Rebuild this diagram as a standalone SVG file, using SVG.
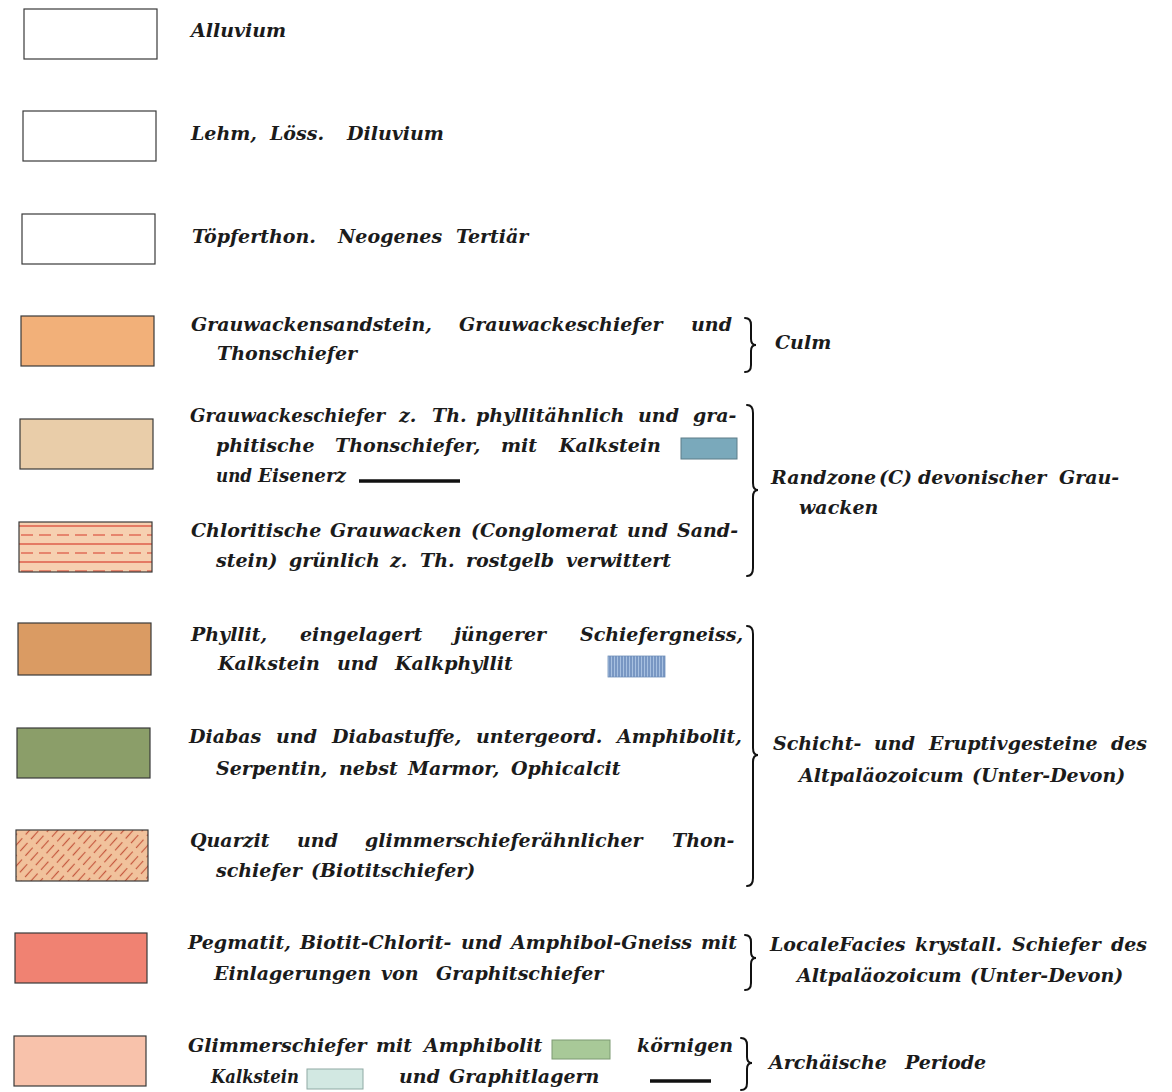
<svg xmlns="http://www.w3.org/2000/svg" width="1172" height="1092" viewBox="0 0 1172 1092">
<style>
.t{font-family:"DejaVu Serif","Liberation Serif",serif;font-weight:bold;font-style:italic;font-size:19px;fill:#1b1b1b}
.sw{stroke:#3a3a3a;stroke-width:1.2}
.br{fill:none;stroke:#111;stroke-width:2;stroke-linecap:round}
.bar{stroke:#111;stroke-width:3.5}
</style>
<defs>
<pattern id="chlor" patternUnits="userSpaceOnUse" x="19" y="522" width="18" height="18">
<rect width="18" height="18" fill="#f6d0b0"/>
<line x1="0" y1="4" x2="18" y2="4" stroke="#e06450" stroke-width="1.6"/>
<line x1="2" y1="13" x2="14" y2="13" stroke="#e06450" stroke-width="1.4"/>
</pattern>
<pattern id="quarz" patternUnits="userSpaceOnUse" width="7" height="16" patternTransform="rotate(42)">
<line x1="3.5" y1="0" x2="3.5" y2="11" stroke="#c4583e" stroke-width="1.2"/>
</pattern>
<pattern id="vstripe" patternUnits="userSpaceOnUse" width="3" height="10">
<rect width="3" height="10" fill="#a7c0e0"/>
<line x1="1" y1="0" x2="1" y2="10" stroke="#4a6ea6" stroke-width="1"/>
</pattern>
</defs>

<g id="alluvium">
<rect class="sw" x="24" y="9" width="133" height="50" fill="#fff"/>
<text class="t" x="191" y="37">Alluvium</text>
</g>
<g id="diluvium">
<rect class="sw" x="23" y="111" width="133" height="50" fill="#fff"/>
<text class="t" y="140"><tspan x="191">Lehm,</tspan><tspan x="270">Löss.</tspan><tspan x="347">Diluvium</tspan></text>
</g>
<g id="tertiaer">
<rect class="sw" x="22" y="214" width="133" height="50" fill="#fff"/>
<text class="t" y="243"><tspan x="192">Töpferthon.</tspan><tspan x="338">Neogenes</tspan><tspan x="456">Tertiär</tspan></text>
</g>
<g id="culm-grauwacke">
<rect class="sw" x="21" y="316" width="133" height="50" fill="#f2b079"/>
<text class="t" y="331"><tspan x="191">Grauwackensandstein,</tspan><tspan x="459">Grauwackeschiefer</tspan><tspan x="691">und</tspan></text>
<text class="t" x="217" y="360">Thonschiefer</text>
</g>
<g id="grauwackeschiefer">
<rect class="sw" x="20" y="419" width="133" height="50" fill="#e9cda9"/>
<text class="t" y="422"><tspan x="190" textLength="195" lengthAdjust="spacingAndGlyphs">Grauwackeschiefer</tspan><tspan x="399">z.</tspan><tspan x="432">Th.</tspan><tspan x="476">phyllitähnlich</tspan><tspan x="638">und</tspan><tspan x="693">gra-</tspan></text>
<text class="t" y="452"><tspan x="216">phitische</tspan><tspan x="335">Thonschiefer,</tspan><tspan x="501">mit</tspan><tspan x="559">Kalkstein</tspan></text>
<rect x="681" y="438" width="56" height="21" fill="#7aa9bb" stroke="#5d7d88" stroke-width="1"/>
<text class="t" y="482"><tspan x="216" textLength="36" lengthAdjust="spacingAndGlyphs">und</tspan><tspan x="258" textLength="88" lengthAdjust="spacingAndGlyphs">Eisenerz</tspan></text>
<line class="bar" x1="359" y1="481" x2="460" y2="481"/>
</g>
<g id="chloritische">
<rect class="sw" x="19" y="522" width="133" height="50" fill="url(#chlor)"/>
<text class="t" y="537"><tspan x="191">Chloritische</tspan><tspan x="330">Grauwacken</tspan><tspan x="471">(Conglomerat</tspan><tspan x="627">und</tspan><tspan x="677">Sand-</tspan></text>
<text class="t" y="567"><tspan x="216">stein)</tspan><tspan x="289">grünlich</tspan><tspan x="390">z.</tspan><tspan x="420">Th.</tspan><tspan x="466">rostgelb</tspan><tspan x="566">verwittert</tspan></text>
</g>
<g id="phyllit">
<rect class="sw" x="18" y="623" width="133" height="52" fill="#da9b63"/>
<text class="t" y="641"><tspan x="191">Phyllit,</tspan><tspan x="300">eingelagert</tspan><tspan x="454">jüngerer</tspan><tspan x="580">Schiefergneiss,</tspan></text>
<text class="t" y="670"><tspan x="218">Kalkstein</tspan><tspan x="337">und</tspan><tspan x="395">Kalkphyllit</tspan></text>
<rect x="608" y="656" width="57" height="21" fill="url(#vstripe)" stroke="#6f8fb8" stroke-width="0.8"/>
</g>
<g id="diabas">
<rect class="sw" x="17" y="728" width="133" height="50" fill="#8b9e69"/>
<text class="t" y="743"><tspan x="189">Diabas</tspan><tspan x="276">und</tspan><tspan x="332">Diabastuffe,</tspan><tspan x="476">untergeord.</tspan><tspan x="617">Amphibolit,</tspan></text>
<text class="t" y="775"><tspan x="216">Serpentin,</tspan><tspan x="339">nebst</tspan><tspan x="408">Marmor,</tspan><tspan x="511">Ophicalcit</tspan></text>
</g>
<g id="quarzit">
<rect x="16" y="830" width="132" height="51" fill="#f1c29c"/>
<rect class="sw" x="16" y="830" width="132" height="51" fill="url(#quarz)"/>
<text class="t" y="847"><tspan x="190">Quarzit</tspan><tspan x="297">und</tspan><tspan x="365">glimmerschieferähnlicher</tspan><tspan x="672">Thon-</tspan></text>
<text class="t" y="877"><tspan x="216">schiefer</tspan><tspan x="311">(Biotitschiefer)</tspan></text>
</g>
<g id="pegmatit">
<rect class="sw" x="15" y="933" width="132" height="50" fill="#f08272"/>
<text class="t" y="949"><tspan x="188">Pegmatit,</tspan><tspan x="300">Biotit-Chlorit-</tspan><tspan x="461">und</tspan><tspan x="511">Amphibol-Gneiss</tspan><tspan x="701">mit</tspan></text>
<text class="t" y="980"><tspan x="214">Einlagerungen</tspan><tspan x="381">von</tspan><tspan x="436">Graphitschiefer</tspan></text>
</g>
<g id="glimmerschiefer">
<rect class="sw" x="14" y="1036" width="132" height="50" fill="#f8c2ab"/>
<text class="t" y="1052"><tspan x="188">Glimmerschiefer</tspan><tspan x="376">mit</tspan><tspan x="424">Amphibolit</tspan><tspan x="637">körnigen</tspan></text>
<rect x="552" y="1040" width="58" height="19" fill="#a8c998" stroke="#7d9a72" stroke-width="1"/>
<text class="t" y="1083"><tspan x="211" textLength="88" lengthAdjust="spacingAndGlyphs">Kalkstein</tspan><tspan x="399">und</tspan><tspan x="449">Graphitlagern</tspan></text>
<rect x="307" y="1069" width="56" height="20" fill="#d2e8e2" stroke="#8faaa4" stroke-width="1"/>
<line class="bar" x1="650" y1="1081" x2="711" y2="1081"/>
</g>

<g id="groups">
<path class="br" d="M745,318 Q751,318 751,325 L751,339 Q751,345 756,345 Q751,345 751,351 L751,365 Q751,372 745,372"/>
<text class="t" x="775" y="349">Culm</text>
<path class="br" d="M747,405 Q753,405 753,413 L753,483 Q753,490 758,490 Q753,490 753,497 L753,568 Q753,576 747,576"/>
<text class="t" y="484"><tspan x="771">Randzone</tspan><tspan x="879">(C)</tspan><tspan x="918">devonischer</tspan><tspan x="1059">Grau-</tspan></text>
<text class="t" x="799" y="514">wacken</text>
<path class="br" d="M747,626 Q753,626 753,634 L753,748 Q753,755 758,755 Q753,755 753,762 L753,878 Q753,886 747,886"/>
<text class="t" y="750"><tspan x="773">Schicht-</tspan><tspan x="874">und</tspan><tspan x="929">Eruptivgesteine</tspan><tspan x="1111">des</tspan></text>
<text class="t" y="782"><tspan x="799">Altpaläozoicum</tspan><tspan x="972">(Unter-Devon)</tspan></text>
<path class="br" d="M745,935 Q751,935 751,942 L751,952 Q751,958 756,958 Q751,958 751,964 L751,983 Q751,990 745,990"/>
<text class="t" y="951"><tspan x="770">LocaleFacies</tspan><tspan x="915">krystall.</tspan><tspan x="1012">Schiefer</tspan><tspan x="1111">des</tspan></text>
<text class="t" y="982"><tspan x="797">Altpaläozoicum</tspan><tspan x="970">(Unter-Devon)</tspan></text>
<path class="br" d="M741,1038 Q747,1038 747,1045 L747,1057 Q747,1063 752,1063 Q747,1063 747,1069 L747,1083 Q747,1090 741,1090"/>
<text class="t" y="1069"><tspan x="769">Archäische</tspan><tspan x="905">Periode</tspan></text>
</g>
</svg>
